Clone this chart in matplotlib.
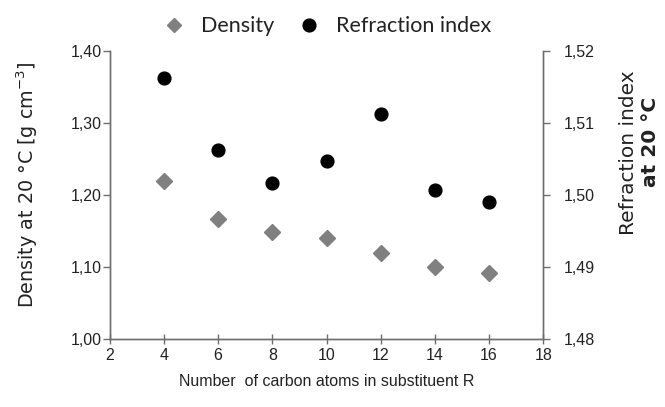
import matplotlib
matplotlib.use("Agg")
import matplotlib.pyplot as plt
from matplotlib.ticker import FixedLocator, FixedFormatter
from matplotlib.lines import Line2D

plt.rcParams['font.family'] = ['Liberation Sans', 'DejaVu Sans']
plt.rcParams['mathtext.fontset'] = 'dejavusans'

carbon_atoms = [4, 6, 8, 10, 12, 14, 16]
density = [1.219, 1.166, 1.148, 1.140, 1.120, 1.100, 1.091]
refraction_x = [4, 6, 8, 10, 12, 14, 16]
refraction = [1.5163, 1.5063, 1.5016, 1.5047, 1.5112, 1.5007, 1.4990]

x_ticks = [2, 4, 6, 8, 10, 12, 14, 16, 18]
left_ticks = [1.00, 1.10, 1.20, 1.30, 1.40]
left_labels = ["1,00", "1,10", "1,20", "1,30", "1,40"]
right_ticks = [1.48, 1.49, 1.50, 1.51, 1.52]
right_labels = ["1,48", "1,49", "1,50", "1,51", "1,52"]

fig = plt.figure(figsize=(6.65, 4.07), dpi=100)
ax = fig.add_axes([0.165, 0.167, 0.652, 0.708])
ax2 = ax.twinx()

spine_color = "#6e6e6e"
text_color = "#222222"
fs = 11.5
diamond_color = "#808080"

ax.plot(carbon_atoms, density, linestyle="none", marker="D", markersize=7.8,
        color=diamond_color, zorder=3)
ax2.plot(refraction_x, refraction, linestyle="none", marker="o", markersize=9.2,
         color="black", zorder=3)

ax.set_xlim(2, 18)
ax.set_ylim(1.00, 1.40)
ax2.set_ylim(1.48, 1.52)

ax.xaxis.set_major_locator(FixedLocator(x_ticks))
ax.yaxis.set_major_locator(FixedLocator(left_ticks))
ax.yaxis.set_major_formatter(FixedFormatter(left_labels))
ax2.yaxis.set_major_locator(FixedLocator(right_ticks))
ax2.yaxis.set_major_formatter(FixedFormatter(right_labels))

for a in (ax, ax2):
    a.spines['top'].set_visible(False)
    for s in ('left', 'right', 'bottom'):
        a.spines[s].set_color(spine_color)
        a.spines[s].set_linewidth(1.0)

ax.tick_params(axis='x', direction='inout', length=7, width=1.0, color=spine_color,
               labelsize=fs, pad=3, labelcolor=text_color)
ax.tick_params(axis='y', direction='out', length=5, width=1.0, color=spine_color,
               labelsize=fs, pad=0.5, labelcolor=text_color)
ax2.tick_params(axis='y', direction='out', length=5, width=1.0, color=spine_color,
                labelsize=fs, pad=10, labelcolor=text_color)

ax.set_xlabel("Number  of carbon atoms in substituent R", fontsize=fs, color=text_color, labelpad=8)

fig.text(27 / 665, 1 - 185 / 407, "Density at 20 °C [g cm$^{-3}$]", rotation=90,
         ha="center", va="center", fontsize=13.8, color=text_color, family=['DejaVu Sans'])

fig.text(628 / 665, 1 - 153 / 407, "Refraction index", rotation=90, ha="center", va="center",
         fontsize=14.5, color=text_color, family=['DejaVu Sans'])
fig.text(651 / 665, 1 - 142 / 407, "at 20 °C", rotation=90, ha="center", va="center",
         fontsize=14.5, color=text_color, family=['DejaVu Sans'], fontweight="bold")

h1 = Line2D([], [], linestyle="none", marker="D", markersize=7.0, color=diamond_color)
h2 = Line2D([], [], linestyle="none", marker="o", markersize=9.2, color="black")
fig.legend(handles=[h1, h2], labels=["Density", "Refraction index"], loc="center",
           bbox_to_anchor=(0.494, 0.935), ncol=2, frameon=False,
           prop={'family': ['Lato', 'DejaVu Sans'], 'size': 15.5},
           handlelength=0.8, handletextpad=0.85, columnspacing=1.23,
           labelcolor=text_color)

fig.savefig("out.png", dpi=100)
